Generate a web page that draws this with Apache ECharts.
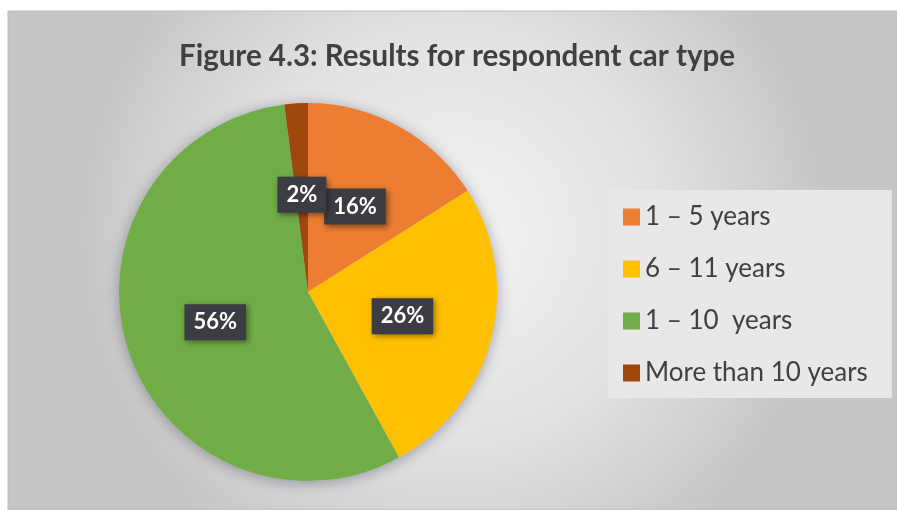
<!DOCTYPE html>
<html>
<head>
<meta charset="utf-8">
<script src="https://cdn.jsdelivr.net/npm/echarts@6/dist/echarts.min.js"></script>
<style>
  html, body { margin: 0; padding: 0; background: #ffffff; }
  #chart { width: 897px; height: 510px; }
</style>
</head>
<body>
<div id="chart"></div>
<script>
// Share of respondents by car age group (percent)
const categories = ['1 – 5 years', '6 – 11 years', '1 – 10  years', 'More than 10 years'];
const shares = [16, 26, 56, 2];
const sliceColors = ['#ED7D31', '#FFC000', '#70AD47', '#9E480E'];
const titleText = 'Figure 4.3: Results for respondent car type';

const FONT = 'Lato, "Open Sans", sans-serif';
const pieCenter = [308, 292];
const pieRadius = 189;

const chart = echarts.init(document.getElementById('chart'), null, { renderer: 'canvas' });

chart.setOption({
  backgroundColor: '#ffffff',
  animation: false,
  graphic: [
    {
      // framed chart area with soft radial shading
      type: 'rect',
      z: -10,
      shape: { x: 8, y: 11, width: 889, height: 499 },
      style: {
        fill: new echarts.graphic.RadialGradient(0.5, 0.45, 0.75, [
          { offset: 0, color: '#f3f3f3' },
          { offset: 0.55, color: '#e2e2e2' },
          { offset: 1, color: '#c6c6c6' }
        ]),
        stroke: '#bdbdbd',
        lineWidth: 1
      }
    }
  ],
  title: {
    text: titleText,
    left: 174,
    top: 36,
    textStyle: {
      fontFamily: FONT,
      fontSize: 29.5,
      fontWeight: 'bold',
      color: '#404040'
    }
  },
  legend: {
    orient: 'vertical',
    left: 608,
    top: 190,
    padding: [14, 24, 12, 15],
    backgroundColor: '#e8e8e8',
    itemWidth: 17,
    itemHeight: 17,
    itemGap: 26,
    icon: 'rect',
    data: categories,
    textStyle: {
      fontFamily: FONT,
      fontSize: 26,
      lineHeight: 26,
      color: '#404040'
    }
  },
  series: [
    {
      // soft drop shadow under the whole pie
      type: 'pie',
      silent: true,
      center: pieCenter,
      radius: pieRadius,
      z: 1,
      label: { show: false },
      labelLine: { show: false },
      itemStyle: {
        color: '#cfcfd8',
        shadowBlur: 14,
        shadowColor: 'rgba(60,60,90,0.45)',
        shadowOffsetY: 2
      },
      data: [{ value: 1, name: '' }],
      tooltip: { show: false }
    },
    {
      type: 'pie',
      z: 2,
      center: pieCenter,
      radius: pieRadius,
      startAngle: 90,
      clockwise: true,
      color: sliceColors,
      itemStyle: { borderWidth: 0 },
      label: {
        show: true,
        position: 'inside',
        formatter: '{c}%',
        fontFamily: FONT,
        fontSize: 22,
        fontWeight: 'bold',
        color: '#ffffff',
        backgroundColor: '#3c3c44',
        padding: [8, 9, 6, 9],
        shadowBlur: 6,
        shadowColor: 'rgba(0,0,0,0.45)',
        shadowOffsetX: 2,
        shadowOffsetY: 2
      },
      labelLayout: { hideOverlap: false },
      labelLine: { show: false },
      emphasis: { disabled: true },
      data: categories.map((name, i) => ({ name, value: shares[i] }))
    }
  ]
});
</script>
</body>
</html>
